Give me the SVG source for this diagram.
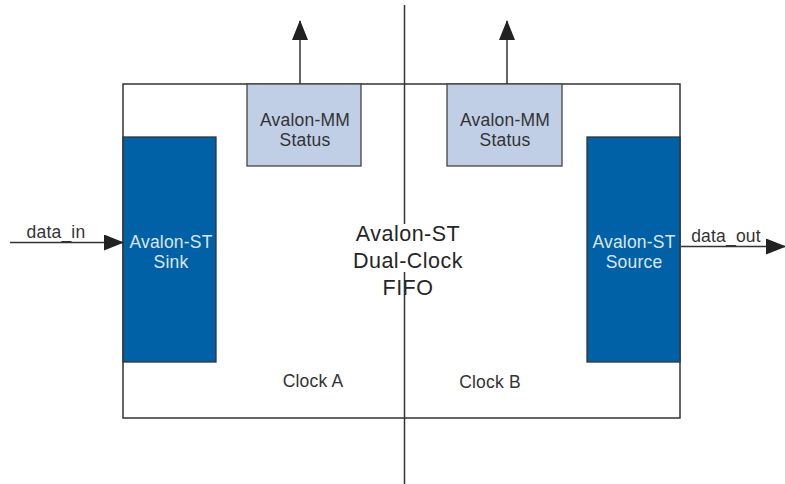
<svg xmlns="http://www.w3.org/2000/svg" width="785" height="484" viewBox="0 0 785 484">
<style>
text{font-family:"Liberation Sans",Arial,sans-serif;fill:#333;text-anchor:middle}
.ln{stroke:#333;stroke-width:1.5;fill:none}
.mm{fill:#C0CEE6;stroke:#444;stroke-width:1.3}
.st{fill:#0061A6;stroke:#333;stroke-width:1.3}
.s14{font-size:17.5px;letter-spacing:0.2px}
.w{fill:#DCE6F4}
.t{font-size:21.5px;letter-spacing:0.5px;fill:#262626}
</style>
<defs>
<marker id="ah2" markerWidth="20" markerHeight="16" refX="19" refY="8" orient="auto" markerUnits="userSpaceOnUse" viewBox="0 0 20 16"><path d="M0,0 L20,8 L0,16 z" fill="#222"/></marker>
</defs>
<g id="fifo">
<rect x="123" y="84" width="557" height="334" fill="#fff" stroke="#333" stroke-width="1.5"/>
<text class="t" x="408" y="241">Avalon-ST</text>
<text class="t" x="408" y="268">Dual-Clock</text>
<text class="t" x="408" y="295">FIFO</text>
<text class="s14" x="313" y="387">Clock A</text>
<text class="s14" x="490" y="388">Clock B</text>
</g>
<g id="divider">
<line class="ln" x1="404.5" y1="5" x2="404.5" y2="224"/>
<line class="ln" x1="404.5" y1="272" x2="404.5" y2="484"/>
</g>
<g id="mm_status_a">
<rect class="mm" x="247" y="84" width="114" height="82"/>
<text class="s14" x="305" y="126">Avalon-MM</text>
<text class="s14" x="305" y="146">Status</text>
</g>
<g id="mm_status_b">
<rect class="mm" x="447" y="84" width="115" height="82"/>
<text class="s14" x="505" y="126">Avalon-MM</text>
<text class="s14" x="505" y="146">Status</text>
</g>
<g id="st_sink">
<rect class="st" x="123" y="137" width="93" height="225"/>
<text class="s14 w" x="171" y="248">Avalon-ST</text>
<text class="s14 w" x="171" y="268">Sink</text>
</g>
<g id="st_source">
<rect class="st" x="587" y="137" width="93" height="225"/>
<text class="s14 w" x="634" y="248">Avalon-ST</text>
<text class="s14 w" x="634" y="268">Source</text>
</g>
<g id="connectors">
<line class="ln" x1="300" y1="84" x2="300" y2="21" marker-end="url(#ah2)"/>
<line class="ln" x1="507" y1="84" x2="507" y2="21" marker-end="url(#ah2)"/>
<line class="ln" x1="10" y1="242.5" x2="123" y2="242.5" marker-end="url(#ah2)"/>
<line class="ln" x1="681" y1="246.5" x2="785" y2="246.5" marker-end="url(#ah2)"/>
<text class="s14" x="56" y="238">data_in</text>
<text class="s14" x="726" y="242">data_out</text>
</g>
</svg>
